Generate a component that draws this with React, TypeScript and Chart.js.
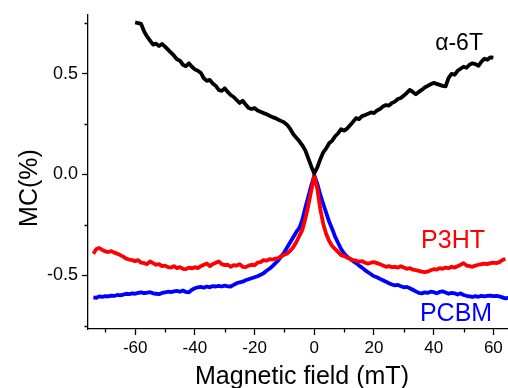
import React, { useEffect, useRef } from "react";
import { Chart, registerables } from "chart.js";

Chart.register(...registerables);

const FONT = "'Liberation Sans', Arial, sans-serif";

const xTickValues = [-60, -40, -20, 0, 20, 40, 60];
const xTickLabels = ["-60", "-40", "-20", "0", "20", "40", "60"];
const xMinorTicks = [-70, -50, -30, -10, 10, 30, 50];
const yTickValues = [-0.5, 0, 0.5];
const yTickLabels = ["-0.5", "0.0", "0.5"];
const yMinorTicks = [-0.75, -0.25, 0.25, 0.75];

const xTitle = "Magnetic field (mT)";
const yTitle = "MC(%)";

// alpha-6T: field from -60 to 60 mT, 1 mT steps
const a6tStart = -60;
const a6tValues = [
  0.755, 0.752, 0.748, 0.71, 0.685, 0.665, 0.645, 0.65, 0.638, 0.648,
  0.635, 0.62, 0.605, 0.59, 0.572, 0.565, 0.545, 0.538, 0.552, 0.535,
  0.522, 0.515, 0.505, 0.478, 0.465, 0.47, 0.452, 0.44, 0.42, 0.415,
  0.428, 0.41, 0.395, 0.385, 0.37, 0.355, 0.366, 0.348, 0.33, 0.325,
  0.33, 0.318, 0.312, 0.305, 0.3, 0.292, 0.285, 0.28, 0.272, 0.265,
  0.258, 0.245, 0.225, 0.2, 0.182, 0.165, 0.145, 0.12, 0.08, 0.04,
  0.005,
  0.035, 0.075, 0.11, 0.13, 0.155, 0.168, 0.19, 0.205, 0.225, 0.218,
  0.228, 0.245, 0.262, 0.28, 0.275, 0.29, 0.295, 0.302, 0.308, 0.305,
  0.318, 0.325, 0.338, 0.345, 0.342, 0.355, 0.362, 0.375, 0.38, 0.392,
  0.405, 0.42, 0.41, 0.398, 0.41, 0.42, 0.432, 0.44, 0.448, 0.455,
  0.45, 0.445, 0.44, 0.438, 0.48, 0.5, 0.495, 0.515, 0.525, 0.535,
  0.53, 0.545, 0.552, 0.548, 0.54, 0.56, 0.575, 0.57, 0.582, 0.58,
];

// P3HT: field from -74 to 64 mT, 1 mT steps
const p3htStart = -74;
const p3htValues = [
  -0.393, -0.37, -0.365, -0.375, -0.382, -0.385, -0.38, -0.388, -0.393, -0.4,
  -0.408, -0.418, -0.422, -0.425, -0.43, -0.425, -0.438, -0.44, -0.445, -0.432,
  -0.44, -0.448, -0.445, -0.455, -0.452, -0.46, -0.462, -0.455, -0.465, -0.46,
  -0.468, -0.47, -0.462, -0.466, -0.46, -0.465, -0.455, -0.448, -0.442, -0.455,
  -0.445, -0.438, -0.432, -0.445, -0.45, -0.448, -0.458, -0.45, -0.452, -0.445,
  -0.458, -0.46, -0.452, -0.448, -0.45, -0.438, -0.435, -0.425, -0.428, -0.42,
  -0.422, -0.418, -0.415, -0.405, -0.398, -0.392, -0.378, -0.36, -0.335, -0.305,
  -0.275, -0.22, -0.155, -0.08,
  -0.005,
  -0.07, -0.17, -0.245, -0.295, -0.33, -0.355, -0.37, -0.385, -0.4, -0.405,
  -0.412, -0.42, -0.425, -0.428, -0.432, -0.43, -0.438, -0.442, -0.438, -0.435,
  -0.44, -0.445, -0.452, -0.458, -0.455, -0.46, -0.458, -0.462, -0.455, -0.462,
  -0.468, -0.465, -0.472, -0.475, -0.478, -0.482, -0.485, -0.482, -0.475, -0.47,
  -0.472, -0.465, -0.468, -0.462, -0.465, -0.458, -0.462, -0.455, -0.448, -0.44,
  -0.452, -0.455, -0.458, -0.452, -0.448, -0.445, -0.442, -0.445, -0.44, -0.438,
  -0.44, -0.435, -0.425, -0.418,
];

// PCBM: field from -74 to 65 mT, 1 mT steps
const pcbmStart = -74;
const pcbmValues = [
  -0.61, -0.612, -0.605, -0.607, -0.604, -0.605, -0.601, -0.603, -0.598, -0.6,
  -0.596, -0.592, -0.594, -0.59, -0.592, -0.588, -0.585, -0.589, -0.587, -0.584,
  -0.59, -0.592, -0.594, -0.588, -0.585, -0.582, -0.584, -0.58, -0.578, -0.582,
  -0.576, -0.583, -0.585, -0.572, -0.565, -0.56, -0.558, -0.562, -0.556, -0.56,
  -0.554, -0.556, -0.553, -0.556, -0.552, -0.555, -0.556, -0.548, -0.54, -0.535,
  -0.532, -0.525, -0.52, -0.515, -0.51, -0.505, -0.498, -0.49, -0.478, -0.468,
  -0.455, -0.44, -0.425, -0.405, -0.385, -0.36, -0.335, -0.31, -0.285, -0.265,
  -0.225, -0.165, -0.11, -0.055,
  -0.005,
  -0.045, -0.1, -0.145, -0.19, -0.235, -0.27, -0.31, -0.34, -0.37, -0.392,
  -0.408, -0.418, -0.43, -0.44, -0.452, -0.462, -0.475, -0.485, -0.495, -0.505,
  -0.51, -0.518, -0.525, -0.532, -0.54, -0.546, -0.55, -0.548, -0.555, -0.56,
  -0.558, -0.565, -0.572, -0.58, -0.588, -0.59, -0.585, -0.588, -0.582, -0.584,
  -0.59, -0.583, -0.58, -0.586, -0.592, -0.588, -0.59, -0.596, -0.59, -0.598,
  -0.602, -0.605, -0.608, -0.604, -0.607, -0.602, -0.605, -0.603, -0.601, -0.604,
  -0.602, -0.605, -0.61, -0.615, -0.612,
];

const seriesNames = ["α-6T", "P3HT", "PCBM"];
const seriesColors = ["#000000", "#ff0000", "#0000ff"];
const labelAnchors = [
  { x: 48.5, y: 0.65 },
  { x: 46.5, y: -0.333 },
  { x: 47.5, y: -0.693 },
];

const toPoints = (start: number, vals: number[]) =>
  vals.map((v, i) => ({ x: start + i, y: v }));

const decorPlugin = {
  id: "decor",
  afterDraw(chart: any) {
    const { ctx, chartArea, scales } = chart;
    const xs = scales.x;
    const ys = scales.y;
    ctx.save();
    ctx.strokeStyle = "#000";
    ctx.lineWidth = 1.3;
    ctx.beginPath();
    xMinorTicks.forEach((v) => {
      const px = Math.round(xs.getPixelForValue(v)) + 0.5;
      ctx.moveTo(px, chartArea.bottom);
      ctx.lineTo(px, chartArea.bottom + 3.5);
    });
    yMinorTicks.forEach((v) => {
      const py = Math.round(ys.getPixelForValue(v)) + 0.5;
      ctx.moveTo(chartArea.left, py);
      ctx.lineTo(chartArea.left - 3.5, py);
    });
    ctx.stroke();

    // series labels
    ctx.textAlign = "center";
    ctx.textBaseline = "middle";
    seriesNames.forEach((name, i) => {
      ctx.fillStyle = seriesColors[i];
      ctx.font = `${i === 0 ? 23 : 25}px ${FONT}`;
      ctx.fillText(
        name,
        xs.getPixelForValue(labelAnchors[i].x),
        ys.getPixelForValue(labelAnchors[i].y)
      );
    });

    // axis titles
    ctx.fillStyle = "#000";
    ctx.font = `25px ${FONT}`;
    ctx.textBaseline = "alphabetic";
    ctx.fillText(xTitle, 302, 384);
    ctx.translate(37, 188);
    ctx.rotate(-Math.PI / 2);
    ctx.fillText(yTitle, 0, 0);
    ctx.restore();
  },
};

export default function App() {
  const ref = useRef<HTMLCanvasElement | null>(null);
  useEffect(() => {
    if (!ref.current) return;
    const chart = new Chart(ref.current, {
      type: "line",
      data: {
        datasets: [
          { label: seriesNames[0], data: toPoints(a6tStart, a6tValues) },
          { label: seriesNames[1], data: toPoints(p3htStart, p3htValues) },
          { label: seriesNames[2], data: toPoints(pcbmStart, pcbmValues) },
        ].map((d, i) => ({
          ...d,
          borderColor: seriesColors[i],
          backgroundColor: seriesColors[i],
          borderWidth: 3.8,
          pointRadius: 0,
          tension: 0,
          fill: false,
          borderJoinStyle: "round" as const,
        })),
      },
      options: {
        animation: false,
        responsive: false,
        layout: { padding: { top: 13, right: 0, left: 0, bottom: 0 } },
        plugins: { legend: { display: false }, tooltip: { enabled: false } },
        scales: {
          x: {
            type: "linear",
            min: -75.8,
            max: 64.9,
            afterBuildTicks: (s: any) => {
              s.ticks = xTickValues.map((v) => ({ value: v }));
            },
            afterFit: (s: any) => {
              s.height = 59;
            },
            ticks: {
              callback: (_v: any, i: number) => xTickLabels[i],
              font: { family: FONT, size: 17 },
              color: "#000",
              padding: 3,
              maxRotation: 0,
              autoSkip: false,
            },
            grid: {
              drawOnChartArea: false,
              drawTicks: true,
              tickLength: 6,
              tickColor: "#000",
              tickWidth: 1.3,
            },
            border: { display: true, color: "#000", width: 1.3 },
          },
          y: {
            type: "linear",
            min: -0.767,
            max: 0.793,
            afterBuildTicks: (s: any) => {
              s.ticks = yTickValues.map((v) => ({ value: v }));
            },
            afterFit: (s: any) => {
              s.width = 88;
            },
            ticks: {
              callback: (_v: any, i: number) => yTickLabels[i],
              font: { family: FONT, size: 18 },
              color: "#000",
              padding: 4,
              autoSkip: false,
            },
            grid: {
              drawOnChartArea: false,
              drawTicks: true,
              tickLength: 6,
              tickColor: "#000",
              tickWidth: 1.3,
            },
            border: { display: true, color: "#000", width: 1.3 },
          },
        },
      },
      plugins: [decorPlugin],
    });
    return () => chart.destroy();
  }, []);
  return (
    <div style={{ position: "fixed", left: 0, top: 0, width: 508, height: 388, background: "#fff" }}>
      <canvas ref={ref} width={508} height={388} />
    </div>
  );
}
